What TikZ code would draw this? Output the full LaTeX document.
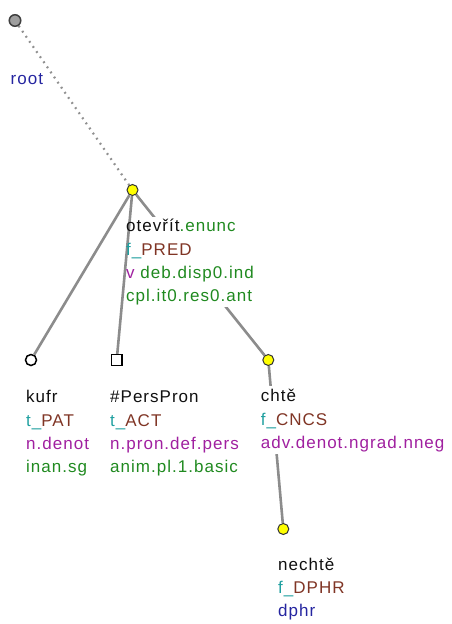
\documentclass[tikz,border=0pt]{standalone}
\usepackage{fontspec}
\usetikzlibrary{fit}
\newfontfamily\lblfont[LetterSpace=6]{Liberation Sans}
\definecolor{cBlack}{HTML}{101010}
\definecolor{cTeal}{HTML}{20A0A0}
\definecolor{cBrown}{HTML}{803525}
\definecolor{cPurple}{HTML}{A020A0}
\definecolor{cGreen}{HTML}{208A20}
\definecolor{cBlue}{HTML}{2525A0}
\definecolor{cEdge}{HTML}{8C8C8C}
\definecolor{cDot}{HTML}{909090}
\definecolor{cYel}{HTML}{FFFF00}
\pgfdeclarelayer{edgelayer}
\pgfdeclarelayer{boxlayer}
\pgfsetlayers{edgelayer,boxlayer,main}
\begin{document}
\begin{tikzpicture}[x=1pt,y=-1pt,
  lbl/.style={anchor=base west, inner sep=0pt, text=cBlack, font=\lblfont\fontsize{17}{20}\selectfont},
  yelnode/.style={circle, draw=black!80, line width=1pt, fill=cYel, minimum size=11pt, inner sep=0pt},
  rootnode/.style={circle, draw=black!75, line width=1.5pt, fill=black!38, minimum size=11.5pt, inner sep=0pt},
  wcirc/.style={circle, draw=black, line width=1.5pt, fill=white, minimum size=11pt, inner sep=0pt},
  wsq/.style={rectangle, draw=black, line width=1.2pt, fill=white, minimum size=10.5pt, inner sep=0pt},
  edge/.style={draw=cEdge, line width=2.6pt},
  dotedge/.style={draw=cDot, line width=2.2pt, dash pattern=on 1.8pt off 4.4pt},
  whitebox/.style={fill=white, draw=none, inner sep=2pt}]
\useasboundingbox (0,0) rectangle (451,624);

% tree nodes
\node[rootnode] (r) at (15,20.5) {};
\node[yelnode] (o) at (132.5,190) {};
\node[wcirc] (k) at (31,360) {};
\node[wsq] (p) at (116.7,360) {};
\node[yelnode] (c) at (268.3,360) {};
\node[yelnode] (n) at (283.3,529) {};

% labels
\node[lbl, text=cBlue] (rl) at (10.5,84.5) {root};

\node[lbl] (o1) at (126,231.5) {otevřít\textcolor{cGreen}{.enunc}};
\node[lbl] (o2) at (126,255) {\textcolor{cTeal}{f\_}\textcolor{cBrown}{PRED}};
\node[lbl] (o3) at (126,278) {\textcolor{cPurple}{v} \textcolor{cGreen}{deb.disp0.ind}};
\node[lbl] (o4) at (126,301.5) {\textcolor{cGreen}{cpl.it0.res0.ant}};

\node[lbl] (k1) at (26,402) {kufr};
\node[lbl] (k2) at (26,426) {\textcolor{cTeal}{t\_}\textcolor{cBrown}{PAT}};
\node[lbl] (k3) at (26,449) {\textcolor{cPurple}{n.denot}};
\node[lbl] (k4) at (26,472) {\textcolor{cGreen}{inan.sg}};

\node[lbl] (p1) at (110,402) {\#PersPron};
\node[lbl] (p2) at (110,426) {\textcolor{cTeal}{t\_}\textcolor{cBrown}{ACT}};
\node[lbl] (p3) at (110,449) {\textcolor{cPurple}{n.pron.def.pers}};
\node[lbl] (p4) at (110,472) {\textcolor{cGreen}{anim.pl.1.basic}};

\node[lbl] (c1) at (260.7,401) {chtě};
\node[lbl] (c2) at (260.7,425) {\textcolor{cTeal}{f\_}\textcolor{cBrown}{CNCS}};
\node[lbl] (c3) at (260.7,448) {\textcolor{cPurple}{adv.denot.ngrad.nneg}};

\node[lbl] (n1) at (278,570) {nechtě};
\node[lbl] (n2) at (278,593) {\textcolor{cTeal}{f\_}\textcolor{cBrown}{DPHR}};
\node[lbl] (n3) at (278,616) {\textcolor{cBlue}{dphr}};

% edges hidden behind label boxes
\begin{pgfonlayer}{edgelayer}
\draw[edge] (o) -- (c);
\draw[edge] (c) -- (n);
\end{pgfonlayer}

% label boxes and remaining edges
\begin{pgfonlayer}{boxlayer}
\node[whitebox, fit=(o1)(o2)(o3)(o4)] (obox) {};
\node[whitebox, fit=(c1)(c2)(c3)] (cbox) {};
\draw[dotedge] (r) -- (o);
\draw[edge] (o) -- (k);
\draw[edge] (o) -- (p);
\end{pgfonlayer}
\end{tikzpicture}
\end{document}
